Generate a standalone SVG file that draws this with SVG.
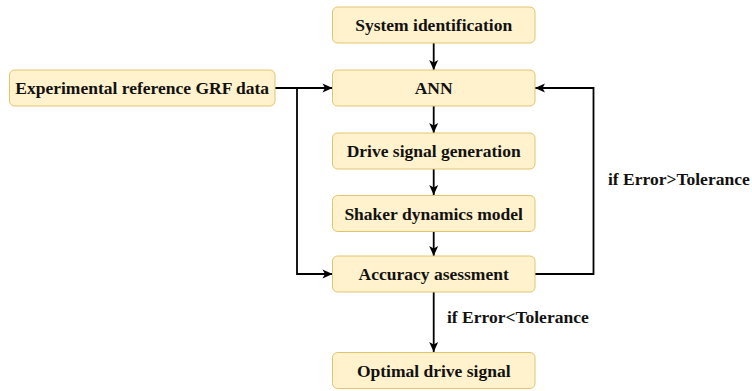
<svg xmlns="http://www.w3.org/2000/svg" width="752" height="391" viewBox="0 0 752 391">
  <style>
    .box { fill: #fff2cc; stroke: #e3c46e; stroke-width: 1; }
    .lbl { font-family: "Liberation Serif", "DejaVu Serif", serif; font-weight: bold; font-size: 17.5px; fill: #111; text-anchor: middle; dominant-baseline: central; }
    .note { font-family: "Liberation Serif", "DejaVu Serif", serif; font-weight: bold; font-size: 17.5px; fill: #111; dominant-baseline: central; }
    .wire { fill: none; stroke: #000; stroke-width: 1.8; }
  </style>
  <defs>
    <marker id="arrow" markerUnits="userSpaceOnUse" markerWidth="12" markerHeight="12" viewBox="0 0 12 12" refX="11" refY="6" orient="auto">
      <path d="M1,1.5 L11,6 L1,10.5 L3.5,6 Z" fill="#000"/>
    </marker>
  </defs>
  <rect width="752" height="391" fill="#fff"/>

  <g id="connectors">
    <line class="wire" x1="433.7" y1="43" x2="433.7" y2="70" marker-end="url(#arrow)"/>
    <line class="wire" x1="433.7" y1="106" x2="433.7" y2="133" marker-end="url(#arrow)"/>
    <line class="wire" x1="433.7" y1="169" x2="433.7" y2="195" marker-end="url(#arrow)"/>
    <line class="wire" x1="433.7" y1="232" x2="433.7" y2="256" marker-end="url(#arrow)"/>
    <line class="wire" x1="433.7" y1="292" x2="433.7" y2="352" marker-end="url(#arrow)"/>
    <line class="wire" x1="275" y1="88" x2="332.5" y2="88" marker-end="url(#arrow)"/>
    <polyline class="wire" points="297,88 297,274 332.5,274" marker-end="url(#arrow)"/>
    <polyline class="wire" points="535,274 593.5,274 593.5,88 535,88" marker-end="url(#arrow)"/>
    <text class="note" x="608" y="179">if Error&gt;Tolerance</text>
    <text class="note" x="447" y="317">if Error&lt;Tolerance</text>
  </g>

  <g id="system-identification">
    <rect class="box" x="332.5" y="7" width="202.5" height="36" rx="5"/>
    <text class="lbl" x="433.7" y="25">System identification</text>
  </g>
  <g id="ann">
    <rect class="box" x="332.5" y="70" width="202.5" height="36" rx="5"/>
    <text class="lbl" x="433.7" y="88">ANN</text>
  </g>
  <g id="experimental-grf">
    <rect class="box" x="9.5" y="70" width="265.5" height="36" rx="5"/>
    <text class="lbl" x="142.2" y="88">Experimental reference GRF data</text>
  </g>
  <g id="drive-signal-generation">
    <rect class="box" x="332.5" y="133" width="202.5" height="36" rx="5"/>
    <text class="lbl" x="433.7" y="151">Drive signal generation</text>
  </g>
  <g id="shaker-dynamics-model">
    <rect class="box" x="332.5" y="195.5" width="202.5" height="36" rx="5"/>
    <text class="lbl" x="433.7" y="213.5">Shaker dynamics model</text>
  </g>
  <g id="accuracy-assessment">
    <rect class="box" x="332.5" y="256" width="202.5" height="36" rx="5"/>
    <text class="lbl" x="433.7" y="274">Accuracy asessment</text>
  </g>
  <g id="optimal-drive-signal">
    <rect class="box" x="332.5" y="352.5" width="202.5" height="36" rx="5"/>
    <text class="lbl" x="433.7" y="370.5">Optimal drive signal</text>
  </g>
</svg>
